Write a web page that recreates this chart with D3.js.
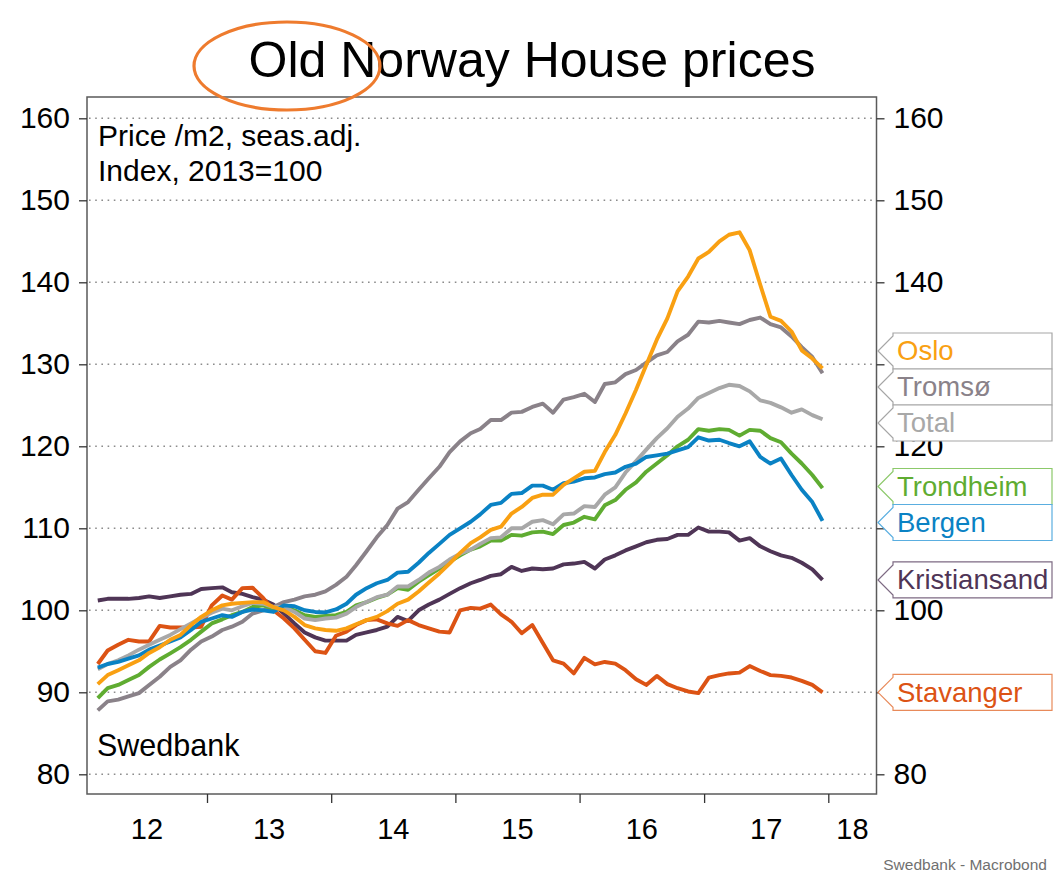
<!DOCTYPE html>
<html><head><meta charset="utf-8">
<script src="https://cdn.jsdelivr.net/npm/d3@7"></script>
<style>
body{margin:0;background:#fff}
svg{display:block;font-family:"Liberation Sans",Arial,sans-serif}
</style>
</head><body>
<svg id="chart" width="1053" height="876"></svg>
<script>
// ---------- DATA (monthly, Feb 2012 .. Dec 2017, index 2013=100) ----------
const firstMonth = "2012-02";
const oslo = [91.0,92.1,92.7,93.3,93.9,94.8,95.5,96.4,97.0,98.2,99.2,100.0,100.6,100.8,100.9,101.0,101.0,100.4,100.0,99.2,98.2,97.8,97.6,97.5,97.8,98.3,98.8,99.2,99.9,
  100.8,101.3,102.3,103.4,104.5,105.7,107.0,108.2,108.9,109.8,110.2,111.8,112.6,113.7,114.1,114.1,115.3,116.1,116.9,117.0,119.3,121.4,124.0,126.9,129.9,133.0,135.6,138.9,140.7,142.9,143.7,145.0,145.8,146.1,143.9,139.7,135.8,135.3,134.0,131.7,130.7,129.5];
const tromso = [87.8,88.9,89.1,89.5,89.9,90.9,91.9,93.1,93.9,95.2,96.2,96.8,97.6,98.0,98.6,99.6,100.0,100.4,101.0,101.3,101.7,101.9,
  102.3,103.1,104.1,105.5,107.2,108.9,110.4,112.4,113.2,114.7,116.1,117.5,119.3,120.6,121.6,122.1,
  123.2,123.2,124.1,124.2,124.8,125.2,124.1,125.7,126.0,126.4,125.4,127.6,127.8,128.8,129.3,130.2,131.1,131.5,132.8,133.6,135.2,135.1,135.3,135.1,134.9,135.4,135.7,134.9,134.5,133.4,132.1,130.9,128.9];
const total = [92.8,93.45,93.9,94.5,95.2,95.8,96.4,97.0,97.7,98.4,99.1,99.7,100.2,100.0,100.5,100.9,100.8,100.4,100.4,99.8,99.0,98.8,
  99.0,99.1,99.6,100.4,101.0,101.6,101.9,102.9,102.9,103.7,104.6,105.3,106.2,106.9,107.4,
  108.1,108.8,108.9,110.0,110.0,110.8,111.0,110.5,111.7,111.8,112.7,112.6,114.1,115.0,116.8,118.2,119.6,121.0,122.2,123.6,124.6,125.9,126.5,127.1,127.5,127.35,126.7,125.6,125.3,124.75,124.1,124.5,123.8,123.3];
const trondheim = [89.3,90.5,90.9,91.5,92.1,93.1,94.0,94.75,95.5,96.4,97.4,98.4,98.9,99.4,99.8,100.4,100.6,100.2,100.4,100.0,99.4,99.2,
  99.3,99.4,99.8,100.6,101.0,101.5,101.9,102.7,102.5,103.5,104.3,105.1,105.9,106.7,107.4,
  107.8,108.5,108.5,109.2,109.1,109.5,109.6,109.3,110.4,110.7,111.4,111.1,112.8,113.45,114.7,115.6,116.9,117.9,118.9,120.0,120.8,122.1,121.9,122.1,122.0,121.3,122.0,121.9,121.0,120.5,119.1,117.9,116.5,114.9];
const bergen = [93.0,93.45,93.7,94.1,94.5,95.2,95.7,96.2,96.7,97.6,98.6,99.0,99.4,99.2,99.8,100.1,100.0,99.8,100.6,100.5,100.0,99.8,
  99.75,100.1,100.8,101.9,102.7,103.3,103.7,104.6,104.7,105.8,107.0,108.1,109.2,110.0,110.8,
  111.7,112.85,113.1,114.2,114.3,115.2,115.2,114.7,115.5,115.7,116.1,116.2,116.6,116.8,117.5,117.9,118.7,118.9,119.1,119.5,119.9,121.1,120.7,120.8,120.4,120.0,120.6,118.7,117.9,118.5,116.5,114.7,113.2,110.9];
const kristiansand = [101.2,101.4,101.4,101.4,101.5,101.7,101.5,101.7,101.9,102.0,
  102.6,102.7,102.8,102.2,102.0,101.6,101.3,100.7,99.6,98.4,
  97.3,96.7,96.3,96.3,96.3,97.0,97.3,97.6,98.0,99.2,
  98.7,100.0,100.7,101.3,102.0,102.7,103.3,103.7,104.2,104.4,
  105.3,104.8,105.1,105.0,105.1,105.6,105.7,105.9,105.1,106.2,
  106.7,107.3,107.8,108.3,108.6,108.7,109.2,109.2,110.1,109.6,
  109.6,109.5,108.5,108.8,107.8,107.2,106.7,106.4,105.8,105.0,103.7];
const stavanger = [93.45,95.1,95.8,96.4,96.2,96.2,98.1,97.9,97.9,97.9,98.0,100.6,101.8,101.3,102.7,102.75,101.5,100.0,99.0,97.8,96.4,95.0,94.8,96.9,97.4,98.2,98.8,
  98.9,98.4,98.1,98.8,98.2,97.8,97.4,97.3,100.0,100.3,100.2,100.7,99.5,98.6,97.2,98.2,96.0,93.9,93.5,92.3,94.2,93.4,93.7,93.5,92.7,91.6,90.9,92.0,91.0,90.5,90.1,89.9,91.8,92.1,92.3,92.4,93.2,92.6,92.1,92.0,91.8,91.4,90.9,90.0];

const seriesNames = ["Oslo","Tromsø","Total","Trondheim","Bergen","Kristiansand","Stavanger"];
const seriesValues = [oslo, tromso, total, trondheim, bergen, kristiansand, stavanger];
const seriesColors = ["#f9a012","#8a8289","#a8a8a8","#5fac31","#0a82c4","#4f3556","#dc5314"];
const boxBorders   = ["#a6a6a6","#a6a6a6","#a6a6a6","#8cc96a","#5aaee0","#7d6a83","#e88a5a"];
const drawOrder = ["Kristiansand","Stavanger","Tromsø","Trondheim","Total","Bergen","Oslo"];
const yTicks = [80,90,100,110,120,130,140,150,160];
const yearTicks = [2013,2014,2015,2016,2017,2018];
const yearLabels = ["12","13","14","15","16","17","18"];
const titleText = "Old Norway House prices";
const noteLines = ["Price /m2, seas.adj.","Index, 2013=100"];
const brand = "Swedbank";
const footer = "Swedbank - Macrobond";

// ---------- LAYOUT ----------
const svg = d3.select("#chart");
const L = 87, R = 876.5, T = 97, B = 794;
const parse = d3.timeParse("%Y-%m");
const start = parse(firstMonth);
const dates = d3.range(oslo.length).map(i => { const d = d3.timeMonth.offset(start, i); return new Date(d.getFullYear(), d.getMonth(), 15); });

const x = d3.scaleTime()
  .domain([new Date(2013,0,1), new Date(2018,0,1)])
  .range([207, 828.3]);
const y = d3.scaleLinear().domain([80,160]).range([774.3, 118.3]);

// end-label layout (computed first so right-axis labels hidden behind boxes can be skipped)
const H = 36;
let items = seriesNames.map((n,i)=>({n,i,target:y(seriesValues[i][seriesValues[i].length-1])})).sort((a,b)=>a.target-b.target);
let clusters = items.map(it=>({items:[it]}));
clusters.forEach(c=>c.mean=d3.mean(c.items,d=>d.target));
let merged = true;
while(merged){
  merged=false;
  for(let k=0;k<clusters.length-1;k++){
    const a=clusters[k], b=clusters[k+1];
    if(a.mean + a.items.length*H/2 > b.mean - b.items.length*H/2){
      const c={items:a.items.concat(b.items)}; c.mean=d3.mean(c.items,d=>d.target);
      clusters.splice(k,2,c); merged=true; break;
    }
  }
}
const boxes = [];
clusters.forEach(c=>{
  const top0 = c.mean - c.items.length*H/2;
  c.items.forEach((it,j)=>boxes.push({i:it.i, t:top0+j*H}));
});
const covered = py => boxes.some(bx => py >= bx.t-0.5 && py <= bx.t+H+0.5);
const hiddenRight = v => covered(y(v)-11) && covered(y(v)+11) && covered(y(v));

// grid
svg.append("g").selectAll("line").data(yTicks).join("line")
  .attr("x1", L+2).attr("x2", R-2)
  .attr("y1", d=>y(d)).attr("y2", d=>y(d))
  .attr("stroke","#8c8c8c").attr("stroke-width",1.6)
  .attr("stroke-dasharray","1.6,4.6");

// frame
svg.append("rect").attr("x",L).attr("y",T).attr("width",R-L).attr("height",B-T)
  .attr("fill","none").attr("stroke","#5a5a5a").attr("stroke-width",1.5);

// y axes (left and right)
const axL = d3.axisLeft(y).tickValues(yTicks).tickSize(8).tickPadding(9).tickFormat(d3.format("d"));
const axR = d3.axisRight(y).tickValues(yTicks).tickSize(8).tickPadding(9).tickFormat(d=>hiddenRight(d)?"":d3.format("d")(d));
const gL = svg.append("g").attr("transform",`translate(${L},0)`).call(axL);
const gR = svg.append("g").attr("transform",`translate(${R},0)`).call(axR);
[gL,gR].forEach(g=>{
  g.select(".domain").remove();
  g.selectAll(".tick line").attr("stroke","#333").attr("stroke-width",1.3);
  g.selectAll(".tick text").attr("fill","#000").style("font-size","30px").style("font-family","'Liberation Sans',Arial,sans-serif");
});

// x axis: ticks at year boundaries, labels centred in visible year span
const axX = d3.axisBottom(x).tickValues(yearTicks.map(yr=>new Date(yr,0,1))).tickSize(9).tickFormat("");
const gX = svg.append("g").attr("transform",`translate(0,${B})`).call(axX);
gX.select(".domain").remove();
gX.selectAll(".tick line").attr("stroke","#333").attr("stroke-width",1.3);
svg.append("g").selectAll("text").data(yearLabels).join("text")
  .attr("x",(d,i)=>{ const yr=2012+i; const a=Math.max(x(new Date(yr,0,1)),L), b=Math.min(x(new Date(yr+1,0,1)),R); return (a+b)/2; })
  .attr("y",839).attr("text-anchor","middle").style("font-size","29px").text(d=>d);

// lines
const line = d3.line().x((d,i)=>x(dates[i])).y(d=>y(d));
const gLines = svg.append("g");
drawOrder.forEach(name=>{
  const i = seriesNames.indexOf(name);
  gLines.append("path").datum(seriesValues[i]).attr("d",line)
    .attr("fill","none").attr("stroke",seriesColors[i]).attr("stroke-width",3.9)
    .attr("stroke-linejoin","round").attr("stroke-linecap","butt");
});

// inner notes
svg.append("g").selectAll("text").data(noteLines).join("text")
  .attr("x",98).attr("y",(d,i)=>146+i*35).style("font-size","30px").text(d=>d);
svg.append("text").attr("x",97).attr("y",756).style("font-size","30.5px").text(brand);

// end labels
const boxL = 893, boxR = 1052, tipX = 878;
const gLab = svg.append("g");
boxes.forEach(bx=>{
  const t = bx.t, b = t + H, m = t + H/2;
  gLab.append("path")
    .attr("d",`M${boxL},${t}L${boxR},${t}L${boxR},${b}L${boxL},${b}L${boxL},${b-3}L${tipX},${m}L${boxL},${t+3}Z`)
    .attr("fill","#fff").attr("stroke",boxBorders[bx.i]).attr("stroke-width",1.2);
  gLab.append("text").attr("x",boxL+4).attr("y",m+9.5).attr("fill",seriesColors[bx.i])
    .style("font-size","27.5px").text(seriesNames[bx.i]);
});

// title + highlight ellipse
svg.append("text").attr("x",532).attr("y",77).attr("text-anchor","middle").style("font-size","50px").text(titleText);
svg.append("ellipse").attr("cx",287).attr("cy",66).attr("rx",93).attr("ry",44)
  .attr("fill","none").attr("stroke","#ee7b2e").attr("stroke-width",3.2);

// footer
svg.append("text").attr("x",1047).attr("y",870).attr("text-anchor","end").attr("fill","#707070").style("font-size","15.5px").text(footer);
</script>
</body></html>
